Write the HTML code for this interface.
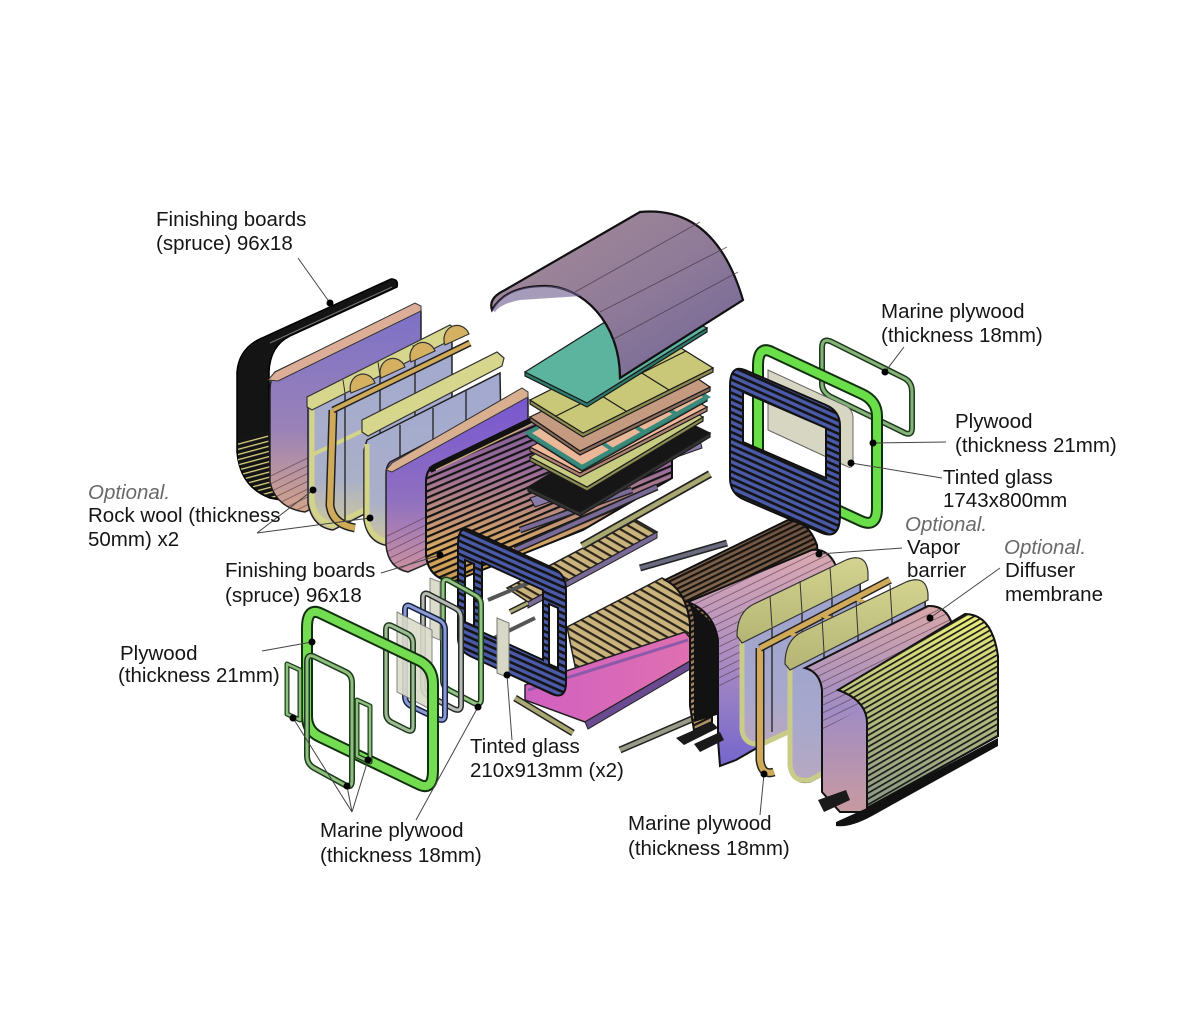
<!DOCTYPE html>
<html><head><meta charset="utf-8">
<style>
html,body{margin:0;padding:0;background:#fff;}
svg{display:block}
text{font-family:"Liberation Sans",Arial,sans-serif;font-size:20.5px;fill:#151515}
.opt{font-style:italic;fill:#6a6a6a}
</style></head><body>
<svg width="1200" height="1024" viewBox="0 0 1200 1024" xmlns="http://www.w3.org/2000/svg">
<defs>
<pattern id="sA" width="10" height="6" patternUnits="userSpaceOnUse" patternTransform="rotate(-23)"><rect width="10" height="2.2" fill="#141414"/></pattern>
<pattern id="sB" width="10" height="6" patternUnits="userSpaceOnUse" patternTransform="rotate(24)"><rect width="10" height="2.6" fill="#141414"/></pattern>
<pattern id="sK" width="10" height="5" patternUnits="userSpaceOnUse" patternTransform="rotate(-30)"><rect width="10" height="1.7" fill="#1a1a1a"/></pattern>
<pattern id="sG" width="10" height="5" patternUnits="userSpaceOnUse" patternTransform="rotate(-26)"><rect width="10" height="2.2" fill="#1a1410"/></pattern>
<pattern id="sDeck" width="10" height="7" patternUnits="userSpaceOnUse" patternTransform="rotate(30)"><rect width="10" height="7" fill="#c9b27c"/><rect width="10" height="2.2" fill="#2a2418"/></pattern>
<pattern id="sThin" width="10" height="7" patternUnits="userSpaceOnUse" patternTransform="rotate(-26)"><rect width="10" height="0.9" fill="#4a3040" opacity="0.6"/></pattern>
<pattern id="sYel" width="10" height="5" patternUnits="userSpaceOnUse" patternTransform="rotate(-15)"><rect width="10" height="1.3" fill="#d8d080"/></pattern>
<linearGradient id="gB" x1="0" y1="0" x2="0" y2="1"><stop offset="0" stop-color="#7c70c8"/><stop offset="0.6" stop-color="#9a82b8"/><stop offset="1" stop-color="#d4a48a"/></linearGradient>
<linearGradient id="gE" x1="0" y1="0" x2="0" y2="1"><stop offset="0" stop-color="#7656d0"/><stop offset="0.6" stop-color="#9070c0"/><stop offset="1" stop-color="#cc92a0"/></linearGradient>
<linearGradient id="gF" x1="0" y1="0" x2="0" y2="1"><stop offset="0" stop-color="#6a5090"/><stop offset="0.5" stop-color="#9a6c9a"/><stop offset="0.85" stop-color="#d8a860"/><stop offset="1" stop-color="#c89850"/></linearGradient>
<linearGradient id="gRoof" x1="0" y1="0" x2="1" y2="1"><stop offset="0" stop-color="#a88e98"/><stop offset="0.55" stop-color="#8e7a98"/><stop offset="1" stop-color="#6e6498"/></linearGradient>
<linearGradient id="gG" x1="0" y1="0" x2="0" y2="1"><stop offset="0" stop-color="#6a5040"/><stop offset="1" stop-color="#b0946a"/></linearGradient>
<linearGradient id="gH" x1="0" y1="0" x2="0" y2="1"><stop offset="0" stop-color="#dcaab2"/><stop offset="0.45" stop-color="#b090c0"/><stop offset="1" stop-color="#7466cc"/></linearGradient>
<linearGradient id="gJ" x1="0" y1="0" x2="0" y2="1"><stop offset="0" stop-color="#d8a8a8"/><stop offset="0.5" stop-color="#a08cc4"/><stop offset="1" stop-color="#c89aa0"/></linearGradient>
<linearGradient id="gK" x1="0" y1="0" x2="0" y2="1"><stop offset="0" stop-color="#eef07a"/><stop offset="0.35" stop-color="#c2c878"/><stop offset="1" stop-color="#8a9888"/></linearGradient>
<linearGradient id="gC" x1="0" y1="0" x2="0" y2="1"><stop offset="0" stop-color="#a2a8d0"/><stop offset="0.75" stop-color="#aab0c8"/><stop offset="1" stop-color="#d0c89a"/></linearGradient>
<linearGradient id="gI" x1="0" y1="0" x2="0" y2="1"><stop offset="0" stop-color="#9aa2cc"/><stop offset="0.7" stop-color="#a8a8cc"/><stop offset="1" stop-color="#b8a8c0"/></linearGradient>
<linearGradient id="gCap" x1="0" y1="0" x2="0" y2="1"><stop offset="0" stop-color="#d4d490"/><stop offset="1" stop-color="#b4b474"/></linearGradient>
<linearGradient id="gPink" x1="0" y1="0" x2="1" y2="0"><stop offset="0" stop-color="#d060c0"/><stop offset="1" stop-color="#e070b0"/></linearGradient>
</defs>

<!-- ===== LEFT GROUP ===== -->
<path d="M262,338 L391,279 Q399,279 397,287 L290,336 Q270,346 269,372 L270,478 Q272,493 286,501 L270,498 Q240,487 237,452 L237,372 Q239,348 262,338Z" fill="#141414" stroke="#000" stroke-width="1.5"/>
<path d="M238,440 L268,432 L270,480 Q272,492 284,500 L268,496 Q244,486 238,460Z" fill="url(#sYel)"/>
<line x1="270" y1="343" x2="392" y2="287" stroke="#777" stroke-width="1"/>
<path d="M275,372 L412,306 Q421,303 421,313 L421,455 L305,512 Q276,508 270,482 L270,392 Q270,378 275,372Z" fill="url(#gB)" stroke="#222" stroke-width="1.5"/>
<path d="M270,482 Q276,508 305,512 L421,455 L421,420 L270,470Z" fill="url(#sThin)"/>
<path d="M268,380 L275,372 L415,303 L421,306 L421,311 L278,381Z" fill="#dcae98" stroke="#333" stroke-width="1"/>
<path d="M312,400 L452,332 L452,470 L333,530 Q312,527 308,503 L308,410 Q308,402 312,400Z" fill="url(#gC)" stroke="#222" stroke-width="1.5"/>
<path d="M312,404 L312,500 Q314,521 334,525 L452,466" fill="none" stroke="#d4d488" stroke-width="5"/>
<path d="M312,455 L452,388" stroke="#d4d488" stroke-width="4"/>
<g stroke="#333" stroke-width="1.5"><line x1="345" y1="388" x2="345" y2="520"/><line x1="380" y1="371" x2="380" y2="503"/><line x1="415" y1="354" x2="415" y2="486"/></g>
<path d="M307,407 L307,397 L450,325 L457,330 L455,338 L312,410Z" fill="#d6d68c" stroke="#333" stroke-width="1.2"/>
<g stroke="#333" stroke-width="1"><line x1="343" y1="380" x2="345" y2="393"/><line x1="378" y1="362" x2="380" y2="376"/><line x1="413" y1="345" x2="415" y2="358"/></g>
<path d="M333,410 L330,505 Q332,524 355,528" fill="none" stroke="#222" stroke-width="9"/>
<path d="M333,410 L330,505 Q332,524 355,528" fill="none" stroke="#d0aa58" stroke-width="6"/>
<path d="M333,410 L470,343" stroke="#222" stroke-width="7"/>
<path d="M333,410 L470,343" stroke="#d0aa58" stroke-width="4"/>
<g fill="#d4b060" stroke="#333" stroke-width="1.2">
<path d="M351,393 A12,13 0 0 1 375,383 Z"/>
<path d="M381,378 A12,13 0 0 1 405,367 Z"/>
<path d="M411,362 A12,13 0 0 1 435,351 Z"/>
<path d="M445,345 A12,13 0 0 1 469,334 Z"/>
</g>
<path d="M367,440 L500,373 L502,485 L392,546 Q368,545 364,520 L364,450 Z" fill="url(#gC)" stroke="#222" stroke-width="1.5"/>
<path d="M367,444 L367,518 Q369,540 392,542 L502,482" fill="none" stroke="#d4d488" stroke-width="5"/>
<g stroke="#333" stroke-width="1.5"><line x1="400" y1="425" x2="400" y2="528"/><line x1="433" y1="408" x2="433" y2="510"/><line x1="466" y1="391" x2="466" y2="493"/></g>
<path d="M362,432 L362,420 L497,352 L504,358 L502,366 L368,436Z" fill="#d6d68c" stroke="#333" stroke-width="1.2"/>
<path d="M390,462 L521,394 Q528,391 528,399 L528,520 L408,572 Q388,568 386,545 L386,474 Q386,466 390,462Z" fill="url(#gE)" stroke="#222" stroke-width="1.5"/>
<path d="M386,540 Q388,568 408,572 L528,520 L528,480 L386,530Z" fill="url(#sThin)"/>
<path d="M386,470 L392,463 L522,388 L528,392 L528,397 L392,472Z" fill="#d8b090" stroke="#333" stroke-width="1"/>
<!-- F striped -->
<path d="M434,465 L548,410 L665,358 Q672,356 672,364 L672,478 L583,530 L452,582 Q428,578 426,555 L426,480 Q427,469 434,465Z" fill="url(#gF)" stroke="#111" stroke-width="2"/>
<path d="M434,465 L548,410 L665,358 Q672,356 672,364 L672,478 L583,530 L452,582 Q428,578 426,555 L426,480 Q427,469 434,465Z" fill="url(#sA)"/>
<path d="M430,470 L548,412" stroke="#111" stroke-width="6"/>
<path d="M436,470 L548,416" stroke="#c8a878" stroke-width="1.5"/>

<!-- ===== CENTER FLOOR PIECES ===== -->
<polygon points="530,498 700,440 702,448 535,507" fill="#8a7aa8" stroke="#222" stroke-width="1"/>
<path d="M520,530 L632,490" stroke="#222" stroke-width="7"/><path d="M520,530 L632,490" stroke="#7a6a98" stroke-width="4"/>
<path d="M515,550 L657,487" stroke="#222" stroke-width="7"/><path d="M515,550 L657,487" stroke="#7a6a98" stroke-width="4"/>
<polygon points="507,588 636,520 657,532 528,602" fill="url(#sDeck)" stroke="#222" stroke-width="1.5"/>
<polygon points="528,602 657,532 657,538 528,608" fill="#7a6a98" stroke="#222" stroke-width="1"/>
<path d="M582,546 L710,474" stroke="#222" stroke-width="8"/><path d="M582,546 L710,474" stroke="#a8a870" stroke-width="4.5"/>
<polygon points="567,627 662,578 705,600 690,648 580,690" fill="url(#sDeck)" stroke="#222" stroke-width="1.5"/>
<path d="M525,685 L545,678 L685,632 L692,640 L692,660 L585,722 L525,700Z" fill="url(#gPink)" stroke="#222" stroke-width="1.5"/>
<path d="M528,690 L688,640" stroke="#8a5aa8" stroke-width="3"/>
<path d="M585,722 L692,660 L692,668 L588,729Z" fill="#6a4a90" stroke="#222" stroke-width="1"/>
<path d="M515,698 L573,733" stroke="#222" stroke-width="7"/><path d="M515,698 L573,733" stroke="#a8a870" stroke-width="4"/>
<path d="M620,750 L713,710" stroke="#222" stroke-width="7"/><path d="M620,750 L713,710" stroke="#9a9a88" stroke-width="4"/>
<path d="M510,612 L528,603" stroke="#222" stroke-width="6"/><path d="M510,612 L528,603" stroke="#a8a870" stroke-width="3"/>
<path d="M488,600 L540,578" stroke="#555" stroke-width="4"/>
<path d="M490,640 L535,618" stroke="#555" stroke-width="4"/>

<!-- ===== ROOF STACK ===== -->
<g stroke="#1a1a1a" stroke-width="1.2">
<polygon points="528,487 580,512 710,433 710,437 580,516 528,491" fill="#333"/>
<polygon points="528,487 658,408 710,433 580,512" fill="#161616"/>
<polygon points="530,457 587,487 703,417 703,421 587,491 530,461" fill="#8a8c50"/>
<polygon points="530,457 646,387 703,417 587,487" fill="#c8cc80"/>
<polygon points="530,447 580,473 707,407 707,411 580,477 530,451" fill="#b08070"/>
<polygon points="530,447 657,381 707,407 580,473" fill="#f0b898"/>
<polygon points="528,433 582,467 707,397 707,401 582,471 528,437" fill="#2a6a60"/>
<polygon points="528,433 653,363 707,397 582,467" fill="#eab898" stroke="#3a8a7c" stroke-width="4"/>
<line x1="559" y1="415" x2="613" y2="450" stroke="#3a8a7c" stroke-width="4"/>
<line x1="590" y1="398" x2="644" y2="432" stroke="#3a8a7c" stroke-width="4"/>
<line x1="622" y1="380" x2="676" y2="414" stroke="#3a8a7c" stroke-width="4"/>
<polygon points="530,417 580,451 710,387 710,391 580,455 530,421" fill="#8a6a58"/>
<polygon points="530,417 660,353 710,387 580,451" fill="#c49a80"/>
<polygon points="530,400 583,433 713,368 713,372 583,437 530,404" fill="#8a8a50"/>
<polygon points="530,400 660,335 713,368 583,433" fill="#c8c878"/>
<line x1="573" y1="378" x2="626" y2="411" />
<line x1="616" y1="357" x2="669" y2="390" />
<line x1="556" y1="416" x2="686" y2="351"/>
<polygon points="525,372 587,403 707,328 707,332 587,407 525,376" fill="#2e7a6a"/>
<polygon points="525,372 645,297 707,328 587,403" fill="#5cb39e"/>
</g>
<path d="M492,310 Q488,298 505,290 L640,212 Q715,205 743,300 L620,378 C620,322 582,286 545,286 C515,286 500,296 492,310Z" fill="url(#gRoof)" stroke="#111" stroke-width="2.2"/>
<path d="M492,310 C500,296 515,286 545,286 C560,286 572,290 582,296 L520,300 Q500,304 495,312Z" fill="#6a5a8a" opacity="0.6"/>
<g stroke="#4a3a4a" stroke-width="0.9" opacity="0.8"><line x1="575" y1="292" x2="700" y2="222"/><line x1="600" y1="312" x2="727" y2="247"/><line x1="612" y1="340" x2="738" y2="272"/></g>

<!-- ===== CENTER BLUE FRAME ===== -->
<path d="M470,530 L553,568 Q566,574 566,590 L566,682 Q566,700 552,694 L470,656 Q458,650 458,638 L458,545 Q458,525 470,530Z M482,562 L543,590 L543,660 L482,632Z M465,560 L474,564 L474,626 L465,622Z M549,604 L558,608 L558,668 L549,664Z" fill="#4a5aa8" fill-rule="evenodd" stroke="#111" stroke-width="2"/>
<path d="M470,530 L553,568 Q566,574 566,590 L566,682 Q566,700 552,694 L470,656 Q458,650 458,638 L458,545 Q458,525 470,530Z M482,562 L543,590 L543,660 L482,632Z M465,560 L474,564 L474,626 L465,622Z M549,604 L558,608 L558,668 L549,664Z" fill="url(#sB)" fill-rule="evenodd"/>
<polygon points="497,618 509,623 509,678 497,673" fill="#d8d8c6" stroke="#777" stroke-width="1"/>

<!-- ===== BOTTOM-LEFT WINDOW GROUP ===== -->
<g fill="none" stroke-linejoin="round">
<path d="M443,584 Q443,577 450,581 L475,595 Q481,598 481,605 L481,699 Q481,706 474,703 L449,690 Q443,687 443,680Z" stroke="#1e3a1e" stroke-width="6"/>
<path d="M443,584 Q443,577 450,581 L475,595 Q481,598 481,605 L481,699 Q481,706 474,703 L449,690 Q443,687 443,680Z" stroke="#90c480" stroke-width="3"/>
<polygon points="430,578 440,582 440,640 430,636" fill="#dcdccc" stroke="#888" stroke-width="1"/>
<path d="M423,598 Q423,591 430,595 L455,608 Q461,611 461,618 L461,705 Q461,712 454,709 L429,696 Q423,693 423,686Z" stroke="#2a2a2a" stroke-width="6"/>
<path d="M423,598 Q423,591 430,595 L455,608 Q461,611 461,618 L461,705 Q461,712 454,709 L429,696 Q423,693 423,686Z" stroke="#b4bcb4" stroke-width="3"/>
<path d="M405,610 Q405,603 412,607 L439,620 Q445,623 445,630 L445,715 Q445,722 438,719 L411,706 Q405,703 405,696Z" stroke="#1a2040" stroke-width="6"/>
<path d="M405,610 Q405,603 412,607 L439,620 Q445,623 445,630 L445,715 Q445,722 438,719 L411,706 Q405,703 405,696Z" stroke="#8a9ad4" stroke-width="3"/>
</g>
<polygon points="397,612 432,630 432,710 397,692" fill="#dcdccc" opacity="0.9" stroke="#777" stroke-width="1"/>
<g fill="none" stroke-linejoin="round">
<path d="M386,630 Q386,623 392,626 L408,634 Q413,637 413,643 L413,726 Q413,733 407,730 L391,722 Q386,719 386,713Z" stroke="#1e3a1e" stroke-width="6"/>
<path d="M386,630 Q386,623 392,626 L408,634 Q413,637 413,643 L413,726 Q413,733 407,730 L391,722 Q386,719 386,713Z" stroke="#a0bc94" stroke-width="3"/>
<path d="M307,628 Q307,606 322,614 L420,661 Q433,668 433,684 L433,770 Q433,792 418,784 L320,737 Q307,731 307,716Z" stroke="#12300f" stroke-width="12"/>
<path d="M307,628 Q307,606 322,614 L420,661 Q433,668 433,684 L433,770 Q433,792 418,784 L320,737 Q307,731 307,716Z" stroke="#74dc50" stroke-width="8"/>
<path d="M307,662 Q307,653 315,657 L346,672 Q352,675 352,683 L352,780 Q352,789 345,785 L314,768 Q307,764 307,756Z" stroke="#1e3a1e" stroke-width="6"/>
<path d="M307,662 Q307,653 315,657 L346,672 Q352,675 352,683 L352,780 Q352,789 345,785 L314,768 Q307,764 307,756Z" stroke="#8cc07c" stroke-width="3"/>
<path d="M287,664 L300,670 L300,720 L287,714Z" stroke="#1e3a1e" stroke-width="5"/>
<path d="M287,664 L300,670 L300,720 L287,714Z" stroke="#8cc07c" stroke-width="2.5"/>
<path d="M357,700 L370,706 L370,762 L357,756Z" stroke="#1e3a1e" stroke-width="5"/>
<path d="M357,700 L370,706 L370,762 L357,756Z" stroke="#8cc07c" stroke-width="2.5"/>
</g>

<!-- ===== RIGHT BARREL GROUP ===== -->
<path d="M640,568 L727,543" stroke="#222" stroke-width="7"/><path d="M640,568 L727,543" stroke="#6a6a80" stroke-width="4"/>
<path d="M665,580 L788,520 Q808,520 817,545 L822,610 L712,668 L712,722 L694,730 L690,706 L690,624 Q686,590 665,580Z" fill="url(#gG)" stroke="#111" stroke-width="2"/>
<path d="M665,580 L788,520 Q808,520 817,545 L822,610 L712,668 L712,722 L694,730 L690,706 L690,624 Q686,590 665,580Z" fill="url(#sG)"/>
<path d="M678,592 Q692,602 694,622 L694,722 L720,714 L720,630 Z" fill="#121212"/>
<polygon points="676,738 712,722 718,728 684,745" fill="#1a1a1a"/>
<path d="M688,602 L812,550 Q828,548 836,566 L840,700 L736,760 L720,766 L718,740 L718,640 Q714,612 688,602Z" fill="url(#gH)" stroke="#111" stroke-width="2"/>
<path d="M688,602 L812,550 Q828,548 836,566 L840,640 L718,690 L718,640 Q714,612 688,602Z" fill="url(#sThin)"/>
<polygon points="694,744 720,732 724,740 700,752" fill="#1a1a1a"/>
<!-- I1 -->
<path d="M742,632 L860,572 L862,700 L762,745 Q745,748 742,730Z" fill="url(#gI)" stroke="#222" stroke-width="1.5"/>
<path d="M742,636 L742,730 Q744,746 762,744 L862,698" fill="none" stroke="#c8cc88" stroke-width="5"/>
<g stroke="#333" stroke-width="1.5"><line x1="772" y1="618" x2="772" y2="732"/><line x1="802" y1="603" x2="802" y2="718"/><line x1="832" y1="588" x2="832" y2="705"/></g>
<path d="M737,636 Q737,612 754,604 L846,560 Q866,552 868,572 L868,580 L742,643Z" fill="url(#gCap)" stroke="#333" stroke-width="1.2"/>
<g stroke="#333" stroke-width="1"><line x1="770" y1="596" x2="772" y2="627"/><line x1="800" y1="581" x2="802" y2="612"/><line x1="830" y1="567" x2="832" y2="597"/></g>
<path d="M760,648 L760,760 Q762,776 774,772" fill="none" stroke="#222" stroke-width="9"/>
<path d="M760,648 L760,760 Q762,776 774,772" fill="none" stroke="#d0aa58" stroke-width="6"/>
<path d="M760,648 L890,580" stroke="#222" stroke-width="8"/><path d="M760,648 L890,580" stroke="#d0aa58" stroke-width="5"/>
<g stroke="#d0aa58" stroke-width="4"><line x1="790" y1="633" x2="812" y2="643"/><line x1="822" y1="615" x2="845" y2="625"/><line x1="855" y1="598" x2="876" y2="608"/></g>
<!-- I2 -->
<path d="M790,660 L925,597 L928,720 L810,782 Q792,785 790,765Z" fill="url(#gI)" stroke="#222" stroke-width="1.5"/>
<path d="M790,664 L790,765 Q792,783 810,780 L928,718" fill="none" stroke="#c8cc88" stroke-width="5"/>
<g stroke="#333" stroke-width="1.5"><line x1="824" y1="647" x2="824" y2="765"/><line x1="858" y1="630" x2="858" y2="747"/><line x1="892" y1="613" x2="892" y2="729"/></g>
<path d="M785,664 Q785,640 802,632 L906,582 Q926,574 928,594 L928,600 L790,670Z" fill="url(#gCap)" stroke="#333" stroke-width="1.2"/>
<g stroke="#333" stroke-width="1"><line x1="822" y1="617" x2="824" y2="652"/><line x1="856" y1="601" x2="858" y2="635"/><line x1="890" y1="585" x2="892" y2="618"/></g>
<!-- J -->
<path d="M805,668 L928,606 Q946,605 952,624 L952,700 L870,748 L870,812 L840,812 L822,792 L822,690 Q820,672 805,668Z" fill="url(#gJ)" stroke="#111" stroke-width="2"/>
<path d="M805,668 L928,606 Q946,605 952,624 L952,660 L822,730 L822,690 Q820,672 805,668Z" fill="url(#sThin)"/>
<polygon points="818,800 846,790 850,800 824,812" fill="#1a1a1a"/>
<!-- K -->
<path d="M838,690 L965,614 Q992,614 998,656 L998,736 L867,808 L867,722 Q866,700 838,690Z" fill="url(#gK)" stroke="#111" stroke-width="2"/>
<path d="M838,690 L965,614 Q992,614 998,656 L998,736 L867,808 L867,722 Q866,700 838,690Z" fill="url(#sK)"/>
<path d="M836,822 L867,808 L998,738 L998,746 L872,816 Q850,828 836,826Z" fill="#111"/>

<!-- ===== RIGHT WINDOW GROUP ===== -->
<g fill="none" stroke-linejoin="round">
<path d="M822,348 Q822,337 832,342 L904,378 Q912,382 912,392 L912,428 Q912,437 903,432 L831,397 Q822,392 822,384Z" stroke="#1e3a1e" stroke-width="6"/>
<path d="M822,348 Q822,337 832,342 L904,378 Q912,382 912,392 L912,428 Q912,437 903,432 L831,397 Q822,392 822,384Z" stroke="#86b478" stroke-width="3"/>
<path d="M772,352 L862,394 Q877,401 877,416 L877,508 Q877,528 861,521 L772,480 Q758,473 758,458 L758,366 Q758,345 772,352Z" stroke="#12300f" stroke-width="12"/>
<path d="M772,352 L862,394 Q877,401 877,416 L877,508 Q877,528 861,521 L772,480 Q758,473 758,458 L758,366 Q758,345 772,352Z" stroke="#6ade48" stroke-width="8"/>
</g>
<path d="M768,370 L846,406 Q853,410 853,418 L853,462 Q853,470 846,466 L768,430Z" fill="#d6d6c2" stroke="#666" stroke-width="1"/>
<path d="M745,370 L826,405 Q840,411 840,426 L840,515 Q840,540 822,533 L745,500 Q730,494 730,478 L730,386 Q730,364 745,370Z M743,392 L826,428 L826,478 L743,442Z" fill="#4a5aa8" fill-rule="evenodd" stroke="#111" stroke-width="2"/>
<path d="M745,370 L826,405 Q840,411 840,426 L840,515 Q840,540 822,533 L745,500 Q730,494 730,478 L730,386 Q730,364 745,370Z M743,392 L826,428 L826,478 L743,442Z" fill="url(#sB)" fill-rule="evenodd"/>

<!-- ===== LEADERS ===== -->
<g stroke="#444" stroke-width="1" fill="none">
<line x1="298" y1="258" x2="330" y2="303"/>
<line x1="257" y1="533" x2="313" y2="490"/>
<line x1="257" y1="533" x2="370" y2="518"/>
<line x1="381" y1="573" x2="440" y2="555"/>
<line x1="262" y1="651" x2="312" y2="642"/>
<line x1="352" y1="812" x2="293" y2="718"/>
<line x1="352" y1="812" x2="347" y2="786"/>
<line x1="352" y1="812" x2="368" y2="760"/>
<line x1="416" y1="820" x2="478" y2="707"/>
<line x1="512" y1="740" x2="507" y2="675"/>
<line x1="760" y1="815" x2="764" y2="774"/>
<line x1="904" y1="347" x2="885" y2="372"/>
<line x1="946" y1="442" x2="873" y2="443"/>
<line x1="942" y1="478" x2="851" y2="463"/>
<line x1="902" y1="548" x2="819" y2="554"/>
<line x1="1000" y1="568" x2="930" y2="618"/>
</g>
<g fill="#000">
<circle cx="330" cy="303" r="3.5"/><circle cx="313" cy="490" r="3.5"/><circle cx="370" cy="518" r="3.5"/>
<circle cx="440" cy="555" r="3.5"/><circle cx="312" cy="642" r="3.5"/><circle cx="293" cy="718" r="3.5"/>
<circle cx="347" cy="786" r="3.5"/><circle cx="368" cy="760" r="3.5"/><circle cx="478" cy="707" r="3.5"/>
<circle cx="507" cy="675" r="3.5"/><circle cx="764" cy="774" r="3.5"/><circle cx="885" cy="372" r="3.5"/>
<circle cx="873" cy="443" r="3.5"/><circle cx="851" cy="463" r="3.5"/><circle cx="819" cy="554" r="3.5"/>
<circle cx="930" cy="618" r="3.5"/>
</g>

<!-- ===== LABELS ===== -->
<text x="156" y="226">Finishing boards</text>
<text x="156" y="250">(spruce) 96x18</text>
<text x="881" y="318">Marine plywood</text>
<text x="881" y="342">(thickness 18mm)</text>
<text x="955" y="428">Plywood</text>
<text x="955" y="452">(thickness 21mm)</text>
<text x="943" y="484">Tinted glass</text>
<text x="943" y="507">1743x800mm</text>
<text class="opt" x="905" y="531">Optional.</text>
<text x="907" y="554">Vapor</text>
<text x="907" y="577">barrier</text>
<text class="opt" x="1004" y="554">Optional.</text>
<text x="1005" y="577">Diffuser</text>
<text x="1005" y="601">membrane</text>
<text class="opt" x="88" y="499">Optional.</text>
<text x="88" y="522">Rock wool (thickness</text>
<text x="88" y="546">50mm) x2</text>
<text x="225" y="577">Finishing boards</text>
<text x="225" y="602">(spruce) 96x18</text>
<text x="120" y="660">Plywood</text>
<text x="118" y="682">(thickness 21mm)</text>
<text x="470" y="753">Tinted glass</text>
<text x="470" y="777">210x913mm (x2)</text>
<text x="320" y="837">Marine plywood</text>
<text x="320" y="862">(thickness 18mm)</text>
<text x="628" y="830">Marine plywood</text>
<text x="628" y="855">(thickness 18mm)</text>
</svg>
</body></html>
